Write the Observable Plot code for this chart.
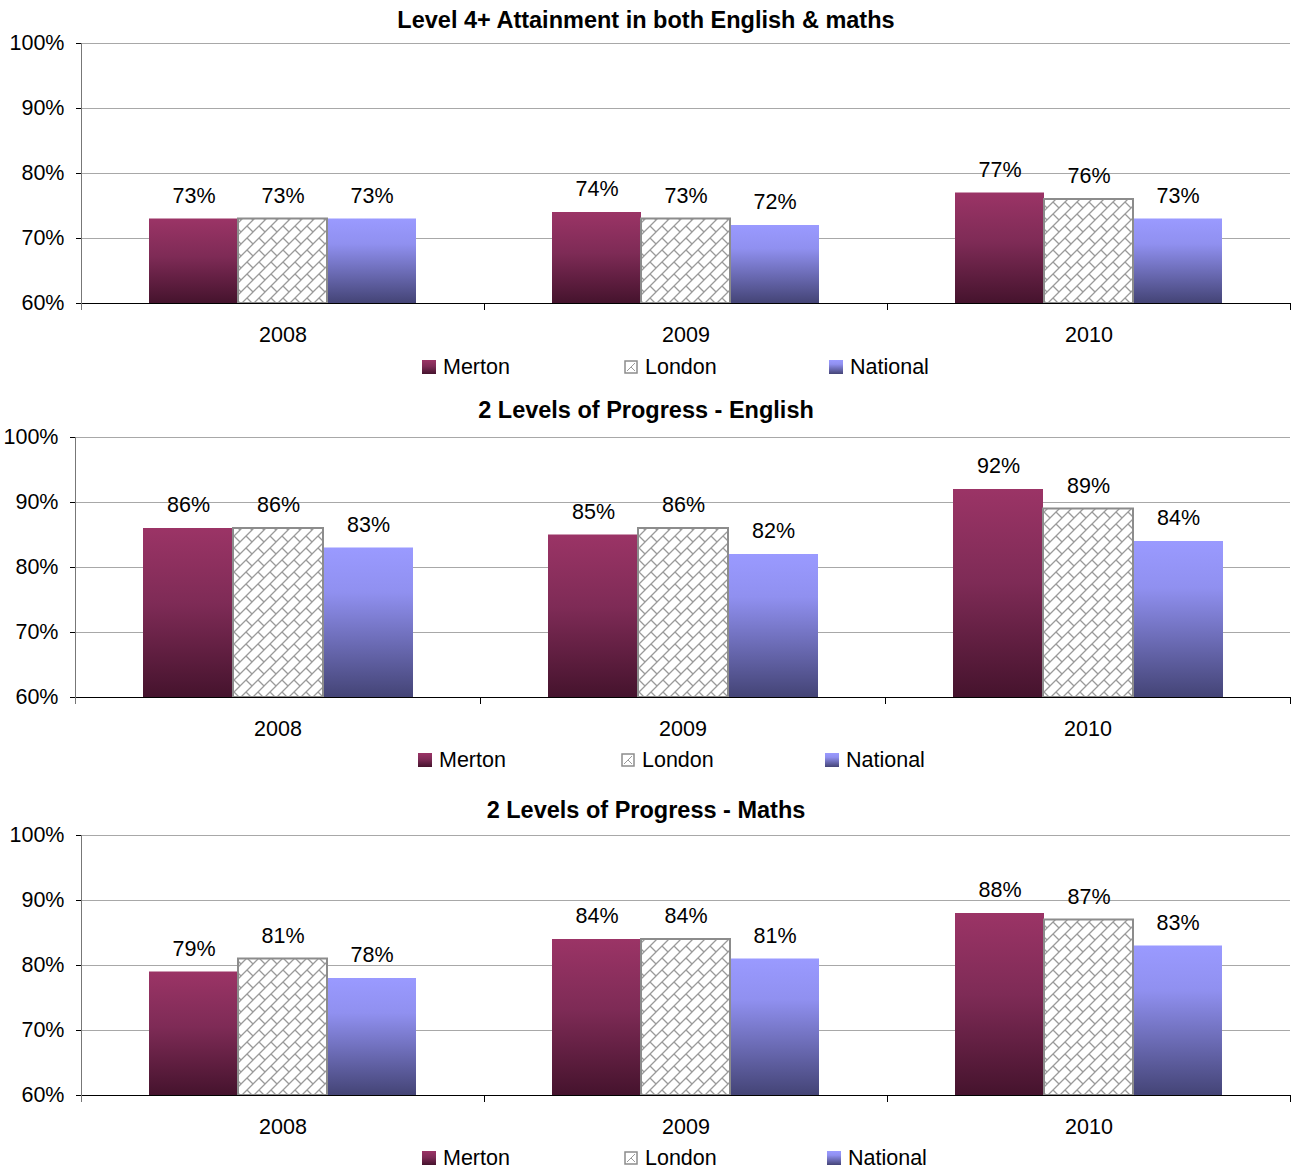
<!DOCTYPE html>
<html>
<head>
<meta charset="utf-8">
<script src="https://cdn.jsdelivr.net/npm/d3@7"></script>
<script src="https://cdn.jsdelivr.net/npm/@observablehq/plot@0.6"></script>
<style>
  body { margin: 0; background: #fff; font-family: "Liberation Sans", Arial, sans-serif; color: #000; }
  #root { position: relative; width: 1292px; height: 1169px; overflow: hidden; }
  .title { position: absolute; left: 0; width: 1292px; text-align: center; font-weight: bold; font-size: 23.5px; line-height: 28px; }
  .plot { position: absolute; left: 0; }
  .legend-item { position: absolute; font-size: 21.5px; line-height: 26px; height: 26px; display: flex; align-items: center; white-space: nowrap; }
  .legend-item svg { margin-right: 7px; }
</style>
</head>
<body>
<svg width="0" height="0" style="position:absolute">
  <defs>
    <linearGradient id="grad-merton" x1="0" y1="0" x2="0" y2="1">
      <stop offset="0" stop-color="#9b3466"/>
      <stop offset="0.45" stop-color="#7e2b56"/>
      <stop offset="1" stop-color="#45132d"/>
    </linearGradient>
    <linearGradient id="grad-national" x1="0" y1="0" x2="0" y2="1">
      <stop offset="0" stop-color="#9a9aff"/>
      <stop offset="0.3" stop-color="#9090f0"/>
      <stop offset="1" stop-color="#444476"/>
    </linearGradient>
    <!-- diagonal brick hatch used for the London bars -->
    <pattern id="brick" width="12" height="12" patternUnits="userSpaceOnUse">
      <rect width="12" height="12" fill="#fff"/>
      <path d="M0,12L12,0M-1,1L1,-1M11,13L13,11M6,6L12,12" stroke="#9a9a9a" stroke-width="1.3" fill="none"/>
    </pattern>
  </defs>
</svg>
<div id="root"></div>
<script>
// Categories and series
const years = ["2008", "2009", "2010"];
const series = ["Merton", "London", "National"];
const yTicks = [60, 70, 80, 90, 100];
const yBase = 60;

// Level 4+ attainment in both English & maths (%)
const l4Merton = [73, 74, 77];
const l4London = [73, 73, 76];
const l4National = [73, 72, 73];

// 2 levels of progress - English (%)
const engMerton = [86, 85, 92];
const engLondon = [86, 86, 89];
const engNational = [83, 82, 84];

// 2 levels of progress - Maths (%)
const mathMerton = [79, 84, 88];
const mathLondon = [81, 84, 87];
const mathNational = [78, 81, 83];

const titles = [
  "Level 4+ Attainment in both English & maths",
  "2 Levels of Progress - English",
  "2 Levels of Progress - Maths"
];

const fills = ["url(#grad-merton)", "url(#brick)", "url(#grad-national)"];

// Page layout of the three panels
const panels = [
  {title: titles[0], values: [l4Merton, l4London, l4National], top: 43, left: 80, titleY: 20, legendY: 367, legendX: [422, 624, 829]},
  {title: titles[1], values: [engMerton, engLondon, engNational], top: 437, left: 75, titleY: 410, legendY: 760, legendX: [418, 621, 825]},
  {title: titles[2], values: [mathMerton, mathLondon, mathNational], top: 835, left: 80, titleY: 810, legendY: 1158, legendX: [422, 624, 827]}
];

const root = document.getElementById("root");
const marginTop = 15, plotH = 260, marginBottom = 50;
const fontSize = 21.5;

function legendSwatch(i) {
  const ns = "http://www.w3.org/2000/svg";
  const svg = document.createElementNS(ns, "svg");
  svg.setAttribute("width", 14);
  svg.setAttribute("height", 14);
  const r = document.createElementNS(ns, "rect");
  if (i === 1) {
    r.setAttribute("x", 1); r.setAttribute("y", 1);
    r.setAttribute("width", 12); r.setAttribute("height", 12);
    r.setAttribute("fill", "#fff");
    r.setAttribute("stroke", "#8c8c8c");
    r.setAttribute("stroke-width", 1.5);
    svg.appendChild(r);
    const p = document.createElementNS(ns, "path");
    p.setAttribute("d", "M3,11L11,3M7,7L11,11");
    p.setAttribute("stroke", "#9a9a9a");
    p.setAttribute("stroke-width", 1);
    svg.appendChild(p);
  } else {
    r.setAttribute("width", 14); r.setAttribute("height", 14);
    r.setAttribute("fill", fills[i]);
    svg.appendChild(r);
  }
  return svg;
}

for (const p of panels) {
  const rows = [];
  years.forEach((yr, i) => {
    series.forEach((s, j) => rows.push({year: yr, series: s, value: p.values[j][i]}));
  });

  const title = document.createElement("div");
  title.className = "title";
  title.style.top = (p.titleY - 14) + "px";
  title.textContent = p.title;
  root.appendChild(title);

  const chart = Plot.plot({
    width: 1292,
    height: marginTop + plotH + marginBottom,
    marginTop, marginBottom,
    marginLeft: p.left,
    marginRight: 2,
    style: {fontFamily: "'Liberation Sans', Arial, sans-serif", fontSize: fontSize + "px", color: "#000", background: "transparent", overflow: "visible"},
    fx: {domain: years, padding: 0, label: null},
    x: {domain: series, paddingInner: 0, paddingOuter: 0.75, axis: null},
    y: {domain: [yBase, 100], label: null},
    color: {domain: series, range: fills},
    marks: [
      Plot.gridY(yTicks.slice(1), {stroke: "#a8a8a8", strokeOpacity: 1, strokeWidth: 1}),
      Plot.barY(rows, {fx: "year", x: "series", y1: yBase, y2: "value", fill: "series"}),
      Plot.barY(rows.filter(d => d.series === "London"), {fx: "year", x: "series", y1: yBase, y2: "value", fill: "none", stroke: "#8c8c8c", strokeWidth: 2}),
      Plot.ruleY([yBase], {stroke: "#000", strokeWidth: 1}),
      Plot.frame({anchor: "right", insetTop: plotH, insetBottom: -6, stroke: "#000"}),
      Plot.frame({fx: "2008", anchor: "left", insetBottom: -6, stroke: "#777"}),
      Plot.axisY({ticks: yTicks, tickFormat: d => d + "%", tickSize: 5, tickPadding: 12, fontSize, label: null}),
      Plot.axisFx({anchor: "bottom", tickSize: 0, tickPadding: 23, fontSize, label: null}),
      Plot.text(rows, {fx: "year", x: "series", y: "value", text: d => d.value + "%", dy: -23, fontSize, fill: "#000"})
    ]
  });
  chart.classList.add("plot");
  chart.style.top = (p.top - marginTop) + "px";
  root.appendChild(chart);

  series.forEach((s, i) => {
    const item = document.createElement("div");
    item.className = "legend-item";
    item.style.left = p.legendX[i] + "px";
    item.style.top = (p.legendY - 13) + "px";
    item.appendChild(legendSwatch(i));
    item.appendChild(document.createTextNode(s));
    root.appendChild(item);
  });
}
</script>
</body>
</html>
